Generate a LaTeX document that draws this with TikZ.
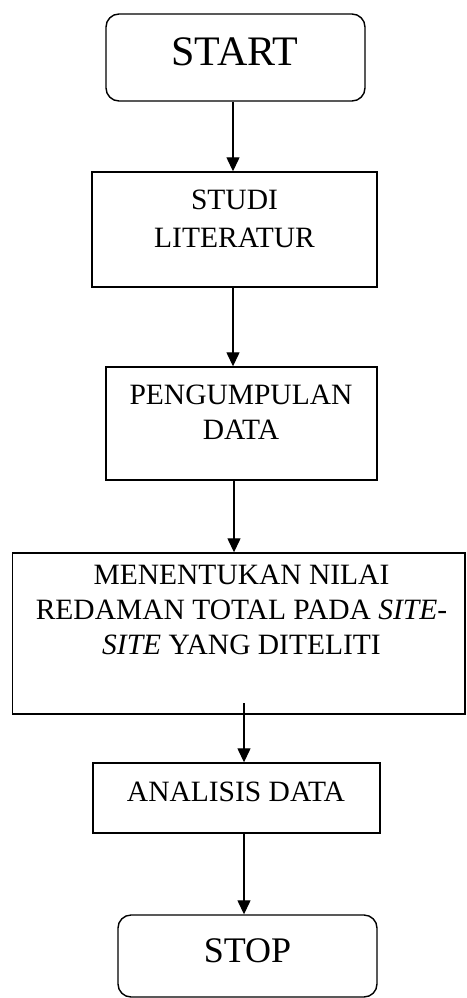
\documentclass[tikz,border=0pt]{standalone}
\usepackage{fontspec}
\setmainfont{Liberation Serif}
\usetikzlibrary{arrows.meta}
\begin{document}
\begin{tikzpicture}[x=1pt,y=-1pt,
  box/.style={draw=black,line width=1.4pt,rectangle,inner sep=0pt},
  term/.style={box,rounded corners=13pt},
  lbl/.style={inner sep=0pt,anchor=north,align=center,font=\fontsize{29.5}{36}\selectfont},
  arr/.style={draw=black,line width=1.3pt,-{Triangle[width=13pt,length=14pt]}}]
\useasboundingbox (0,0) rectangle (466,998);
% boxes
\node[term,minimum width=259pt,minimum height=87pt] (start) at (235.5,57.5) {};
\node[box,minimum width=285pt,minimum height=115pt] (studi) at (234.5,229.5) {};
\node[box,minimum width=271pt,minimum height=113pt] (peng) at (241.5,423.5) {};
\node[box,minimum width=452.3pt,minimum height=161pt] (men) at (238.85,633.5) {};
\node[box,minimum width=287pt,minimum height=70pt] (ana) at (236.5,798) {};
\node[term,minimum width=259pt,minimum height=82pt] (stop) at (247.5,956) {};
% texts
\node[lbl,font=\fontsize{42}{48}\selectfont] (tstart) at (235,37) {START};
\node[lbl,font=\fontsize{29.5}{38}\selectfont] (tstudi) at (234.5,190) {STUDI\\LITERATUR};
\node[lbl,font=\fontsize{29.5}{35}\selectfont] (tpeng) at (241,385) {PENGUMPULAN\\DATA};
\node[lbl,font=\fontsize{29.5}{35}\selectfont] (tmen) at (241.5,565) {MENENTUKAN NILAI\\REDAMAN TOTAL PADA \textit{SITE}-\\\textit{SITE} YANG DITELITI};
\node[lbl] (tana) at (236,782) {ANALISIS DATA};
\node[lbl,font=\fontsize{36}{42}\selectfont] (tstop) at (247.5,938) {STOP};
% connectors
\coordinate (ax) at (233,0);
\coordinate (bx) at (234,0);
\coordinate (m4) at (244,703);
\draw[arr] (start.south -| ax) -- (studi.north -| ax);
\draw[arr] (studi.south -| ax) -- (peng.north -| ax);
\draw[arr] (peng.south -| bx) -- (men.north -| bx);
\draw[arr] (m4) -- (ana.north -| m4);
\draw[arr] (ana.south -| m4) -- (stop.north -| m4);
\end{tikzpicture}
\end{document}
